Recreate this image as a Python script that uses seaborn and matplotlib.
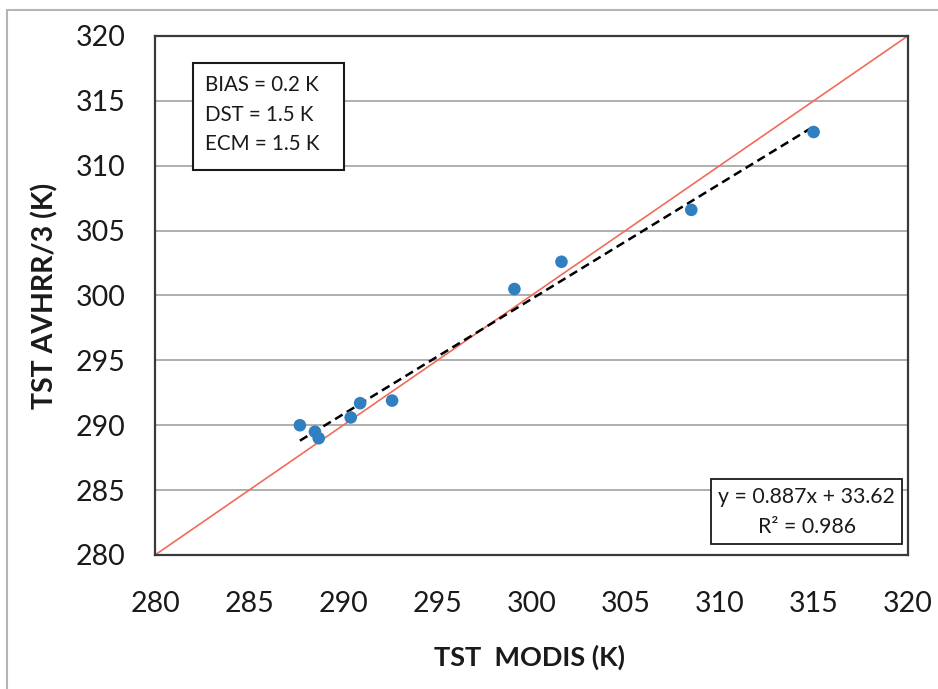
import numpy as np
import pandas as pd
import matplotlib
matplotlib.use("Agg")
import matplotlib.pyplot as plt
from matplotlib.patches import Rectangle
import seaborn as sns

# ---- data ----
tst_modis = [287.7, 288.5, 288.7, 290.4, 290.9, 292.6, 299.1, 301.6, 308.5, 315.0]
tst_avhrr = [290.0, 289.5, 289.0, 290.6, 291.7, 291.9, 300.5, 302.6, 306.6, 312.6]
fit_slope = 0.887
fit_intercept = 33.62
axis_ticks = [280, 285, 290, 295, 300, 305, 310, 315, 320]
stats_lines = ["BIAS = 0.2 K", "DST = 1.5 K", "ECM = 1.5 K"]
eq_lines = ["y = 0.887x + 33.62", "R² = 0.986"]
x_label = "TST  MODIS (K)"
y_label = "TST AVHRR/3 (K)"

sns.set_theme(style="white")
plt.rcParams['font.family'] = ['Lato', 'DejaVu Sans']

fig = plt.figure(figsize=(9.38, 6.89), dpi=100)
ax = fig.add_axes([155/938, 1-555/689, (907.7-155)/938, (555-36)/689])

df = pd.DataFrame({"x": tst_modis, "y": tst_avhrr})

# gridlines
ax.set_axisbelow(True)
ax.yaxis.grid(True, color="#a8a8a8", linewidth=1.3)
ax.xaxis.grid(False)

# 1:1 line
one = pd.DataFrame({"x": [axis_ticks[0], axis_ticks[-1]], "y": [axis_ticks[0], axis_ticks[-1]]})
sns.lineplot(data=one, x="x", y="y", ax=ax, color="#f26b5b", linewidth=1.2, zorder=2)

# trend line
xfit = np.array([min(tst_modis), max(tst_modis)])
fit = pd.DataFrame({"x": xfit, "y": fit_slope * xfit + fit_intercept})
sns.lineplot(data=fit, x="x", y="y", ax=ax, color="black", linewidth=1.8,
             linestyle=(0, (3.5, 2)), zorder=3)

# points
sns.scatterplot(data=df, x="x", y="y", ax=ax, color="#2f7fc1", s=82,
                edgecolor="none", zorder=4)

ax.set_xlim(axis_ticks[0], axis_ticks[-1])
ax.set_ylim(axis_ticks[0], axis_ticks[-1])
ax.set_xticks(axis_ticks)
ax.set_yticks(axis_ticks)
ax.tick_params(axis="both", length=0, labelsize=20.5, colors="#1a1a1a")
ax.tick_params(axis="x", pad=26)
ax.tick_params(axis="y", pad=21)
for s in ax.spines.values():
    s.set_color("#3a3a3a")
    s.set_linewidth(1.6)
    s.set_visible(True)

ax.set_xlabel("")
ax.set_ylabel("")
ax.text(0.498, -0.197, x_label, transform=ax.transAxes, ha="center", va="center",
        fontsize=19.5, fontweight="bold", color="#1a1a1a")
ax.text(-0.146, 0.50, y_label, transform=ax.transAxes, ha="center", va="center",
        rotation=90, fontsize=20.5, fontweight="bold", color="#1a1a1a")

# stats box
ax.add_patch(Rectangle((0.0505, 0.742), 0.2006, 0.206, transform=ax.transAxes,
                       facecolor="white", edgecolor="#1a1a1a", linewidth=1.5, zorder=5))
for t, yy in zip(stats_lines, [0.906, 0.848, 0.792]):
    ax.text(0.0664, yy, t, transform=ax.transAxes, ha="left", va="center",
            fontsize=14.8, color="#1a1a1a", zorder=6)

# equation box
ax.add_patch(Rectangle((0.7387, 0.0212), 0.2537, 0.1252, transform=ax.transAxes,
                       facecolor="white", edgecolor="#1a1a1a", linewidth=1.3, zorder=5))
for t, yy in zip(eq_lines, [0.1118, 0.0539]):
    ax.text(0.8656, yy, t, transform=ax.transAxes, ha="center", va="center",
            fontsize=15.3, color="#1a1a1a", zorder=6)

# outer chart border (left/top visible)
fig.patches.append(Rectangle((7/938, -0.2), 2, 0.2 + 1 - 10/689, transform=fig.transFigure,
                             facecolor="none", edgecolor="#b5b5b5", linewidth=1.5))

fig.savefig("out.png", dpi=100)
